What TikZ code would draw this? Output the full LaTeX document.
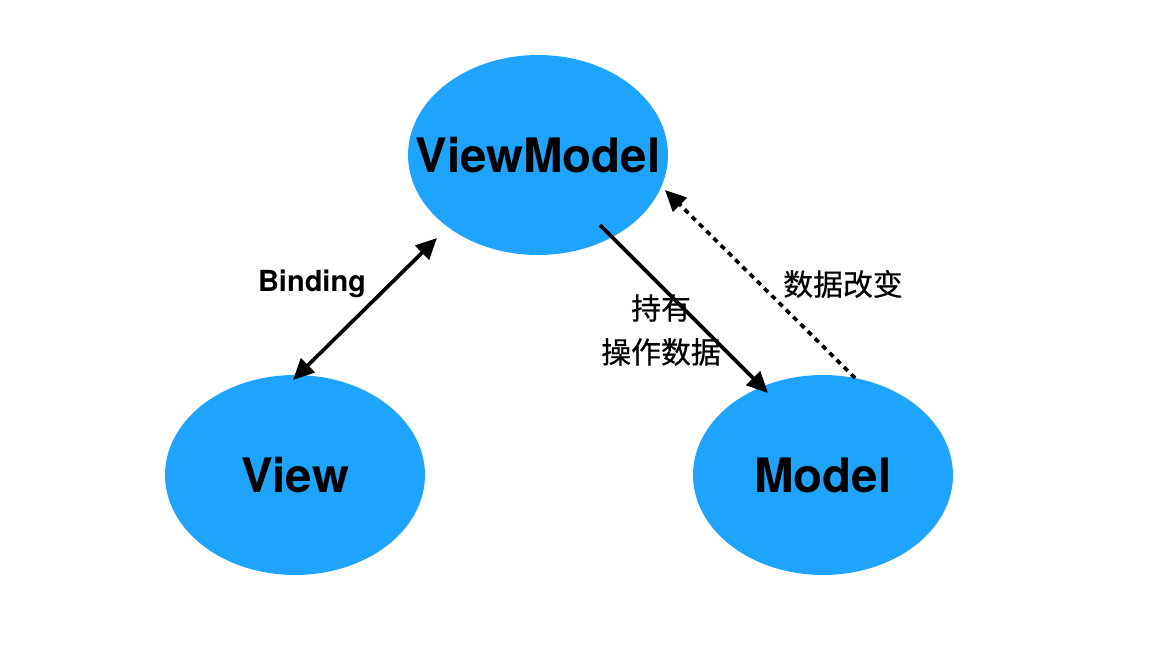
\documentclass[tikz,border=0pt]{standalone}
\usepackage{fontspec}
\setsansfont{TeX Gyre Heros}
\newfontfamily\cjk[FakeBold=0.5]{Noto Sans CJK SC}
\usetikzlibrary{shapes.geometric,arrows.meta}
\definecolor{mvvmblue}{HTML}{1EA4FC}

\begin{document}
\begin{tikzpicture}[x=0.02cm,y=-0.02cm,
  bubble/.style={ellipse,fill=mvvmblue,minimum width=5.2cm,minimum height=4cm,
    inner xsep=-0.7cm,inner ysep=0pt,
    font=\sffamily\bfseries\fontsize{27}{30}\selectfont},
  tag/.style={font=\sffamily\bfseries\fontsize{16.5}{20}\selectfont},
  cjktag/.style={font=\cjk\fontsize{17}{25}\selectfont,align=center},
  link/.style={line width=2.1pt,>={Triangle[length=12pt,width=11pt]}}]
\useasboundingbox (0,0) rectangle (1160,652);
% the three parts
\node[bubble] (vm) at (538,155) {ViewModel};
\node[bubble] (view) at (295,475) {View};
\node[bubble] (model) at (823,475) {Model};
% arrow ends
\coordinate (bindlo) at (293,380);
\coordinate (bindhi) at (437,238);
\coordinate (holdin) at (600,225);
\coordinate (holdtip) at (768,393);
\coordinate (changein) at (855,378);
\coordinate (changetip) at (665,190);
\draw[link,<->] (bindlo) -- (bindhi);
\draw[link,->] (holdin) -- (holdtip);
\draw[link,->,dash pattern=on 3pt off 2.8pt] (changein) -- (changetip);
% labels
\node[tag] (bindlabel) at (312,284) {Binding};
\node[cjktag] (holdlabel) at (661,330) {持有\\操作数据};
\node[cjktag] (changelabel) at (843,284) {数据改变};
\end{tikzpicture}
\end{document}
